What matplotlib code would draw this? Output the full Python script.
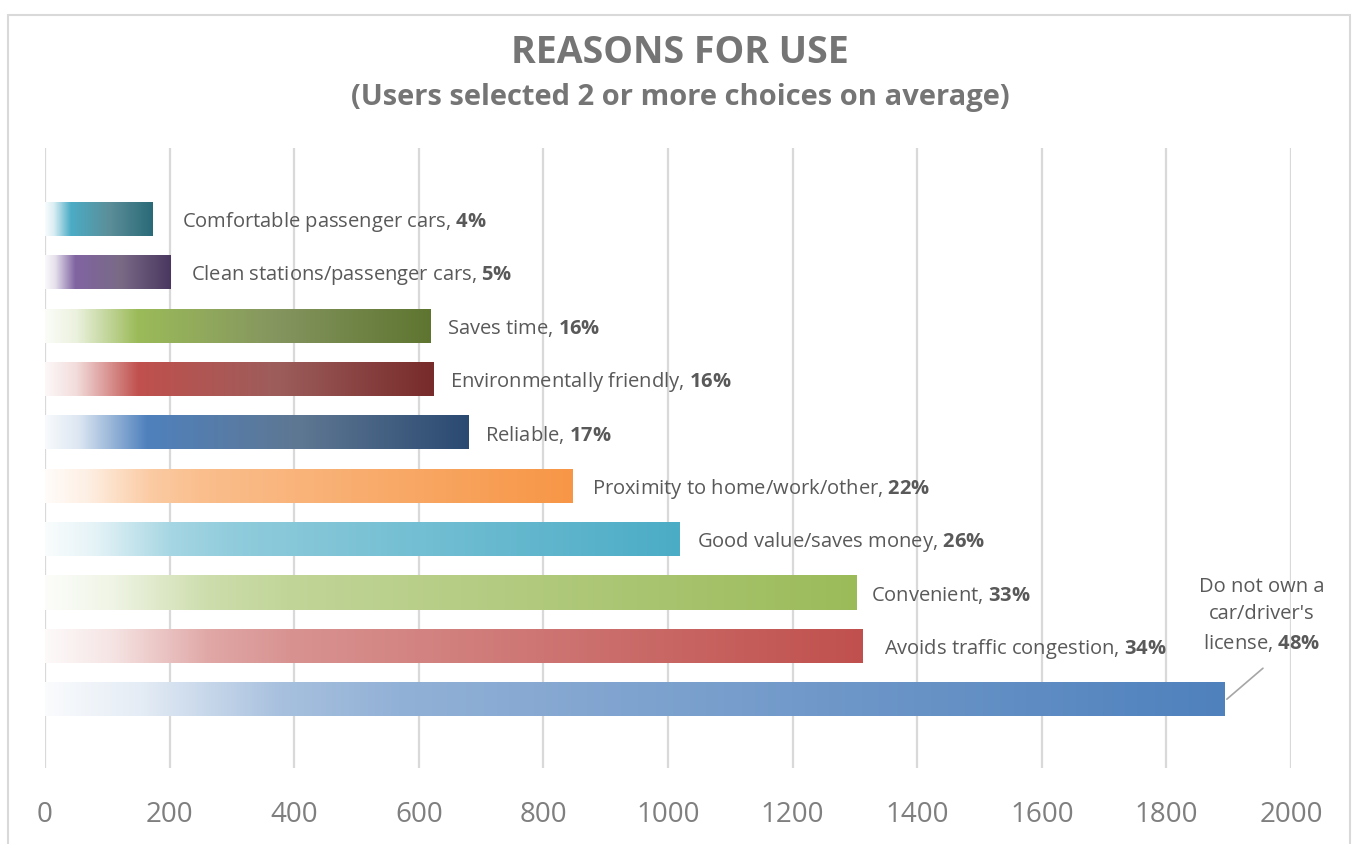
import numpy as np
import matplotlib
matplotlib.use("Agg")
import matplotlib.pyplot as plt
from matplotlib.colors import to_rgb
from matplotlib.patches import Rectangle

plt.rcParams['font.family'] = ['Open Sans', 'DejaVu Sans']
plt.rcParams['mathtext.fontset'] = 'custom'
plt.rcParams['mathtext.rm'] = 'Open Sans'
plt.rcParams['mathtext.bf'] = 'Open Sans:bold'

# data, top to bottom as shown
labels = ["Comfortable passenger cars", "Clean stations/passenger cars", "Saves time",
          "Environmentally friendly", "Reliable", "Proximity to home/work/other",
          "Good value/saves money", "Convenient", "Avoids traffic congestion",
          "Do not own a\ncar/driver's\nlicense"]
counts = [173, 201, 618, 623, 680, 847, 1018, 1302, 1313, 1894]
pcts = ["4%", "5%", "16%", "16%", "17%", "22%", "26%", "33%", "34%", "48%"]
base_colors = ["#4BACC6", "#8064A2", "#9BBB59", "#C0504D", "#4F81BD",
               "#F79646", "#4BACC6", "#9BBB59", "#C0504D", "#4F81BD"]
mid_colors = ["#5B8E98", "#7A6A86", "#85955F", "#9C5D5B", "#5E7792",
              None, None, None, None, None]
dark_colors = ["#2A6A78", "#4A3760", "#5E7530", "#772B2A", "#2B4A72",
               None, None, None, None, None]

n = len(labels)
ypos = np.arange(n)[::-1]

def tint(c, t):
    c = np.array(to_rgb(c))
    return 1 - t * (1 - c)

def gradient(i, npts=400):
    x = np.linspace(0, 1, npts)
    b = base_colors[i]
    if dark_colors[i] is not None:
        stops = [(0, tint(b, 0.04)), (0.08, tint(b, 0.2)), (0.24, tint(b, 1.0)),
                 (0.6, np.array(to_rgb(mid_colors[i]))), (1.0, np.array(to_rgb(dark_colors[i])))]
    else:
        stops = [(0, tint(b, 0.03)), (0.08, tint(b, 0.15)), (0.2, tint(b, 0.5)),
                 (0.3, tint(b, 0.62)), (1.0, tint(b, 1.0))]
    sx = [s[0] for s in stops]
    rgb = np.stack([np.interp(x, sx, [s[1][k] for s in stops]) for k in range(3)], axis=-1)
    return rgb[np.newaxis, :, :]

fig = plt.figure(figsize=(13.54, 8.44), dpi=100)
ax = fig.add_axes([45 / 1354, 1 - 768 / 844, (1291 - 45) / 1354, (768 - 148) / 844])

bars = ax.barh(ypos, counts, height=0.64, color='none', zorder=2)
for i, bar in enumerate(bars):
    x0, y0 = bar.get_x(), bar.get_y()
    w, h = bar.get_width(), bar.get_height()
    im = ax.imshow(gradient(i), extent=[x0, x0 + w, y0, y0 + h], aspect='auto',
                   interpolation='bilinear', zorder=2)
    im.set_clip_path(bar)

ax.set_xlim(0, 2000)
ax.set_ylim(-1.29, 10.33)
ax.set_xticks(np.arange(0, 2001, 200))
ax.set_yticks([])
ax.grid(axis='x', color='#d9d9d9', linewidth=1.6, zorder=0)
ax.set_axisbelow(True)
for s in ax.spines.values():
    s.set_visible(False)
ax.tick_params(axis='x', length=0, pad=24, labelsize=20, labelcolor='#7f7f7f')

# data labels
offsets = [21, 15, 12, 12, 12, 14, 13, 11, 15]
for i in range(n - 1):
    ax.annotate(labels[i] + ", $\\mathbf{" + pcts[i].replace('%', '\\%') + "}$",
                xy=(counts[i], ypos[i]), xytext=(offsets[i], -2), textcoords='offset points',
                ha='left', va='center', fontsize=14.5, color='#595959')

# callout for the longest bar
ax.annotate(labels[-1] + ", $\\mathbf{" + pcts[-1].replace('%', '\\%') + "}$",
            xy=(1953, 1.57), ha='center', va='center', fontsize=14.5,
            color='#595959', linespacing=1.45)
ax.annotate("", xy=(counts[-1] + 3, ypos[-1]), xytext=(1955, 0.58), textcoords='data',
            arrowprops=dict(arrowstyle='-', color='#a6a6a6', lw=1.2,
                            shrinkA=0, shrinkB=0))

fig.text(680 / 1354, 1 - 53 / 844, "REASONS FOR USE", ha='center', va='center',
         fontsize=27, fontweight='bold', color='#757575')
fig.text(680 / 1354, 1 - 98 / 844, "(Users selected 2 or more choices on average)",
         ha='center', va='center', fontsize=21, fontweight='bold', color='#757575')

fig.patches.append(Rectangle((8 / 1354, -0.1), (1350 - 8) / 1354, 1.1 - 15 / 844,
                             transform=fig.transFigure, fill=False,
                             edgecolor='#d9d9d9', linewidth=1.5))

fig.savefig("out.png", dpi=100)
